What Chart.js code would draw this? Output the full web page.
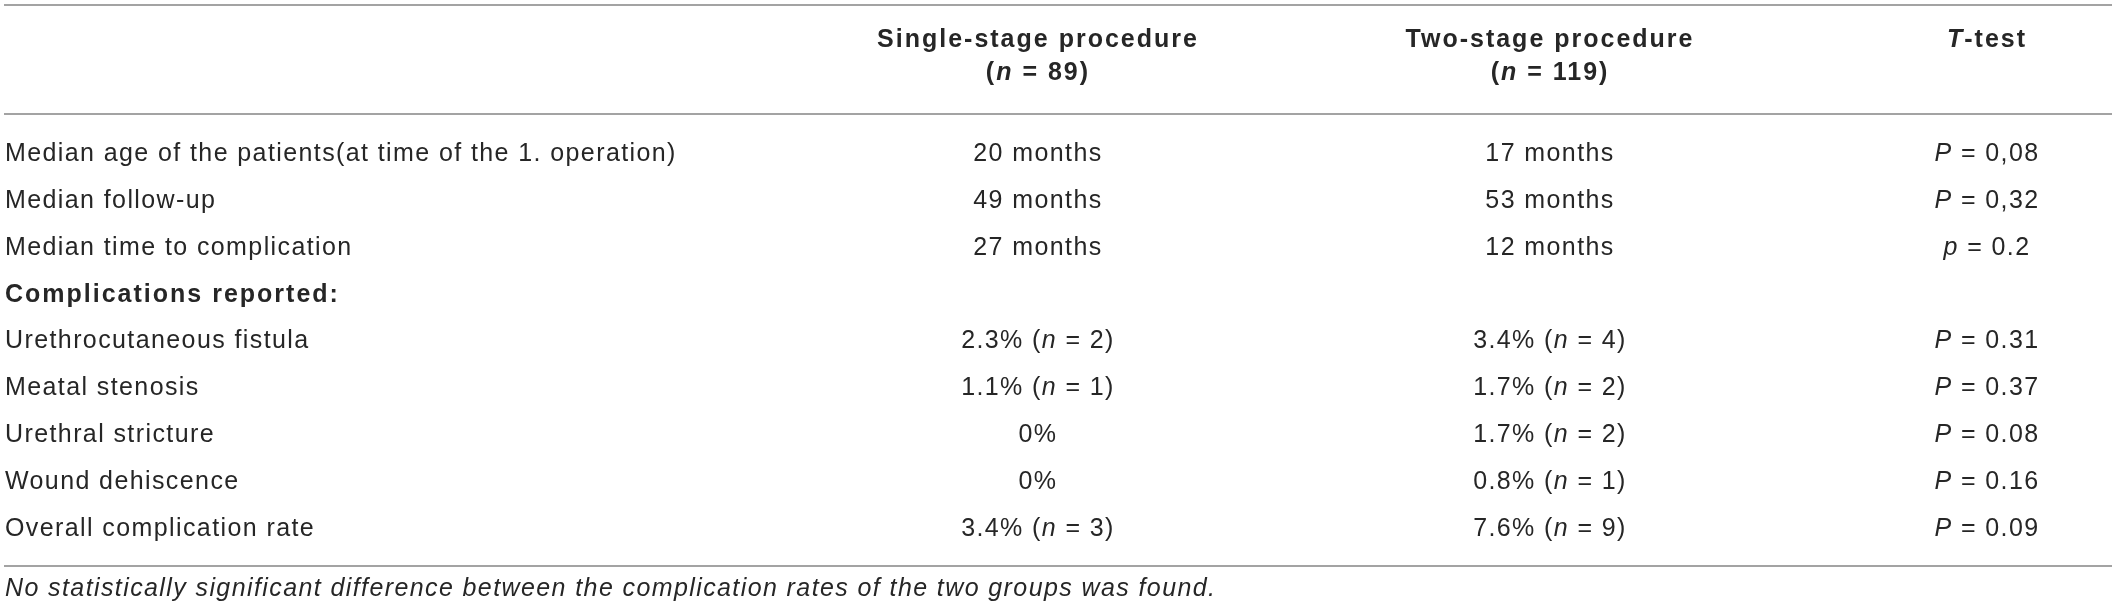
<!DOCTYPE html>
<html>
<head>
<meta charset="utf-8">
<title>Single-stage vs two-stage procedure</title>
<script src="https://cdn.jsdelivr.net/npm/chart.js@4"></script>
<style>
  html, body { margin: 0; padding: 0; background: #fff; }
  #tbl { display: block; }
</style>
</head>
<body>
<canvas id="tbl" width="2117" height="614"></canvas>
<script>
// Table content (segments between * are drawn in italic)
const rowLabels = [
  'Median age of the patients(at time of the 1. operation)',
  'Median follow-up',
  'Median time to complication',
  'Complications reported:',
  'Urethrocutaneous fistula',
  'Meatal stenosis',
  'Urethral stricture',
  'Wound dehiscence',
  'Overall complication rate'
];
const boldRows = ['Complications reported:'];
const singleStage = ['20 months', '49 months', '27 months', '', '2.3% (*n* = 2)', '1.1% (*n* = 1)', '0%', '0%', '3.4% (*n* = 3)'];
const twoStage = ['17 months', '53 months', '12 months', '', '3.4% (*n* = 4)', '1.7% (*n* = 2)', '1.7% (*n* = 2)', '0.8% (*n* = 1)', '7.6% (*n* = 9)'];
const tTest = ['*P* = 0,08', '*P* = 0,32', '*p* = 0.2', '', '*P* = 0.31', '*P* = 0.37', '*P* = 0.08', '*P* = 0.16', '*P* = 0.09'];
const columnHeaders = [
  ['Single-stage procedure', '(*n* = 89)'],
  ['Two-stage procedure', '(*n* = 119)'],
  ['*T*-test']
];
const footnote = '*No statistically significant difference between the complication rates of the two groups was found.*';

// layout: column centres as fraction of table width
const colCenter = [0.4905, 0.7334, 0.9407];
const FONT = '"Liberation Sans", Arial, sans-serif';
const SIZE = 25;
const TEXT = '#262626';
const RULE = '#a3a3a3';
// wider tracking, like the light Helvetica of the original
const TRACK = { normal: 1.4, bold: 2.0 };

const columns = [singleStage, twoStage, tTest];

// draw a string made of plain / *italic* runs
function drawRuns(ctx, str, x, y, align, weight) {
  const parts = str.split('*');
  ctx.letterSpacing = TRACK[weight] + 'px';
  const runs = parts.map((p, i) => ({
    text: p,
    font: (i % 2 ? 'italic ' : '') + weight + ' ' + SIZE + 'px ' + FONT
  })).filter(r => r.text.length);
  let total = 0;
  runs.forEach(r => { ctx.font = r.font; r.w = ctx.measureText(r.text).width; total += r.w; });
  let cx = align === 'center' ? x - total / 2 : x;
  ctx.textAlign = 'left';
  ctx.textBaseline = 'middle';
  ctx.fillStyle = TEXT;
  runs.forEach(r => { ctx.font = r.font; ctx.fillText(r.text, cx, y); cx += r.w; });
}

const tablePlugin = {
  id: 'tablePlugin',
  afterDatasetsDraw(chart) {
    const ctx = chart.ctx;
    const x = chart.scales.x, y = chart.scales.y;
    const area = chart.chartArea;
    ctx.save();

    // rules
    ctx.strokeStyle = RULE;
    ctx.lineWidth = 2;
    const rules = [5, area.top - 17, area.bottom + 14];
    rules.forEach(ry => {
      ctx.beginPath();
      ctx.moveTo(x.left, ry);
      ctx.lineTo(x.right, ry);
      ctx.stroke();
    });

    // header
    columnHeaders.forEach((lines, c) => {
      lines.forEach((t, k) => {
        drawRuns(ctx, t, x.getPixelForValue(colCenter[c]), 40 + k * 33, 'center', 'bold');
      });
    });

    // row labels
    rowLabels.forEach((lab, i) => {
      const w = boldRows.includes(lab) ? 'bold' : 'normal';
      drawRuns(ctx, lab, x.getPixelForValue(0) + 1, y.getPixelForValue(i), 'left', w);
    });

    // cells, at the positions of the dataset points
    chart.data.datasets.forEach((ds, d) => {
      const meta = chart.getDatasetMeta(d);
      meta.data.forEach((pt, i) => {
        const txt = ds.cells[i];
        if (txt) drawRuns(ctx, txt, pt.x, pt.y, 'center', 'normal');
      });
    });

    // footnote
    drawRuns(ctx, footnote, x.getPixelForValue(0) + 1, area.bottom + 37, 'left', 'normal');
    ctx.restore();
  }
};

new Chart(document.getElementById('tbl'), {
  type: 'scatter',
  data: {
    datasets: columns.map((col, c) => ({
      label: 'col' + c,
      cells: col,
      data: rowLabels.map(r => ({ x: colCenter[c], y: r })),
      pointRadius: 0,
      pointHoverRadius: 0
    }))
  },
  options: {
    responsive: false,
    animation: false,
    devicePixelRatio: 1,
    layout: { padding: { top: 131, bottom: 62, left: 4, right: 5 } },
    plugins: { legend: { display: false }, tooltip: { enabled: false } },
    events: [],
    scales: {
      x: { type: 'linear', min: 0, max: 1, display: false },
      y: { type: 'category', labels: rowLabels, offset: true, display: false }
    }
  },
  plugins: [tablePlugin]
});
</script>
</body>
</html>
